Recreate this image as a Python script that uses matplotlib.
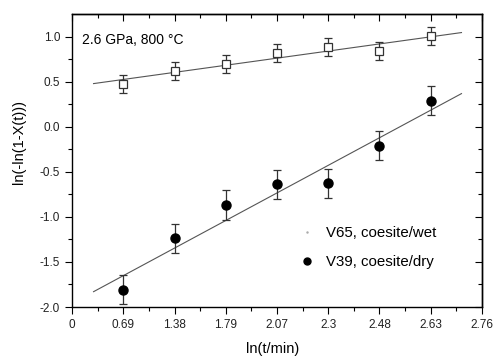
import matplotlib
matplotlib.use("Agg")
import matplotlib.pyplot as plt
import numpy as np

plt.rcParams['font.family'] = ['Liberation Sans', 'DejaVu Sans']

tick_labels = ["0", "0.69", "1.38", "1.79", "2.07", "2.3", "2.48", "2.63", "2.76"]
x_idx = [1, 2, 3, 4, 5, 6, 7]

wet_y = [0.47, 0.62, 0.70, 0.82, 0.88, 0.84, 1.01]
wet_err = [0.10, 0.10, 0.10, 0.10, 0.10, 0.10, 0.10]
dry_y = [-1.81, -1.24, -0.87, -0.64, -0.63, -0.21, 0.29]
dry_err = [0.16, 0.16, 0.17, 0.16, 0.16, 0.16, 0.16]

fit_x = [0.42, 7.6]
wet_fit = [0.478, 1.044]
dry_fit = [-1.83, 0.367]

fig = plt.figure(figsize=(4.95, 3.56), dpi=100)
ax = fig.add_axes([0.1455, 0.1376, 0.9737 - 0.1455, 0.9607 - 0.1376])

ax.plot(fit_x, wet_fit, color='#555555', lw=0.8, zorder=1)
ax.plot(fit_x, dry_fit, color='#555555', lw=0.8, zorder=1)

ax.errorbar(x_idx, wet_y, yerr=wet_err, fmt='s', mfc='white', mec='#333333',
            ms=6, mew=0.9, ecolor='#333333', elinewidth=0.9, capsize=3, capthick=0.9, zorder=3)
ax.errorbar(x_idx, dry_y, yerr=dry_err, fmt='o', mfc='black', mec='black',
            ms=6.5, ecolor='#333333', elinewidth=0.9, capsize=3, capthick=0.9, zorder=3)

# legend proxies
h1, = ax.plot([], [], ls='none', marker='.', ms=1.5, color='#aaaaaa')
h2, = ax.plot([], [], ls='none', marker='o', ms=5, color='black')
ax.legend([h1, h2], ["V65, coesite/wet", "V39, coesite/dry"], frameon=False,
          loc='center left', bbox_to_anchor=(0.551, 0.203), fontsize=10.8,
          handlelength=1.2, handletextpad=0.65, labelspacing=1.0,
          borderpad=0, borderaxespad=0)

ax.text(0.025, 0.911, "2.6 GPa, 800 °C", transform=ax.transAxes, fontsize=10,
        va='center', ha='left')

ax.set_xlim(0, 8)
ax.set_ylim(-2.0, 1.25)
ax.set_xticks(range(9))
ax.set_xticklabels(tick_labels)
ax.set_xticks(np.arange(0.5, 8, 1), minor=True)
ax.set_yticks([-2.0, -1.5, -1.0, -0.5, 0.0, 0.5, 1.0])
ax.set_yticklabels(["-2.0", "-1.5", "-1.0", "-0.5", "0.0", "0.5", "1.0"])
ax.set_yticks(np.arange(-1.75, 1.25, 0.5), minor=True)

ax.tick_params(axis='both', which='major', direction='out', length=5, width=0.8,
               labelsize=8.5, colors='black', labelcolor='#222222')
ax.tick_params(axis='both', which='minor', direction='out', length=3, width=0.8)

secx = ax.secondary_xaxis('top')
secx.set_xticks(range(9))
secx.set_xticks(np.arange(0.5, 8, 1), minor=True)
secx.tick_params(which='major', direction='in', length=5, width=0.8, labeltop=False)
secx.tick_params(which='minor', direction='in', length=3, width=0.8)
secy = ax.secondary_yaxis('right')
secy.set_yticks([-2.0, -1.5, -1.0, -0.5, 0.0, 0.5, 1.0])
secy.set_yticks(np.arange(-1.75, 1.25, 0.5), minor=True)
secy.tick_params(which='major', direction='in', length=5, width=0.8, labelright=False)
secy.tick_params(which='minor', direction='in', length=3, width=0.8)
for s in ax.spines.values():
    s.set_linewidth(1.0)
secx.spines['top'].set_linewidth(1.0)
secy.spines['right'].set_linewidth(1.0)

ax.set_xlabel("ln(t/min)", fontsize=10.5)
ax.xaxis.set_label_coords(0.49, -0.142)
ax.xaxis.label.set_va('center')
ax.set_ylabel("ln(-ln(1-X(t)))", fontsize=10.5)
ax.yaxis.set_label_coords(-0.13, 0.563)
ax.yaxis.label.set_va('center')

fig.savefig("out.png", dpi=100)
